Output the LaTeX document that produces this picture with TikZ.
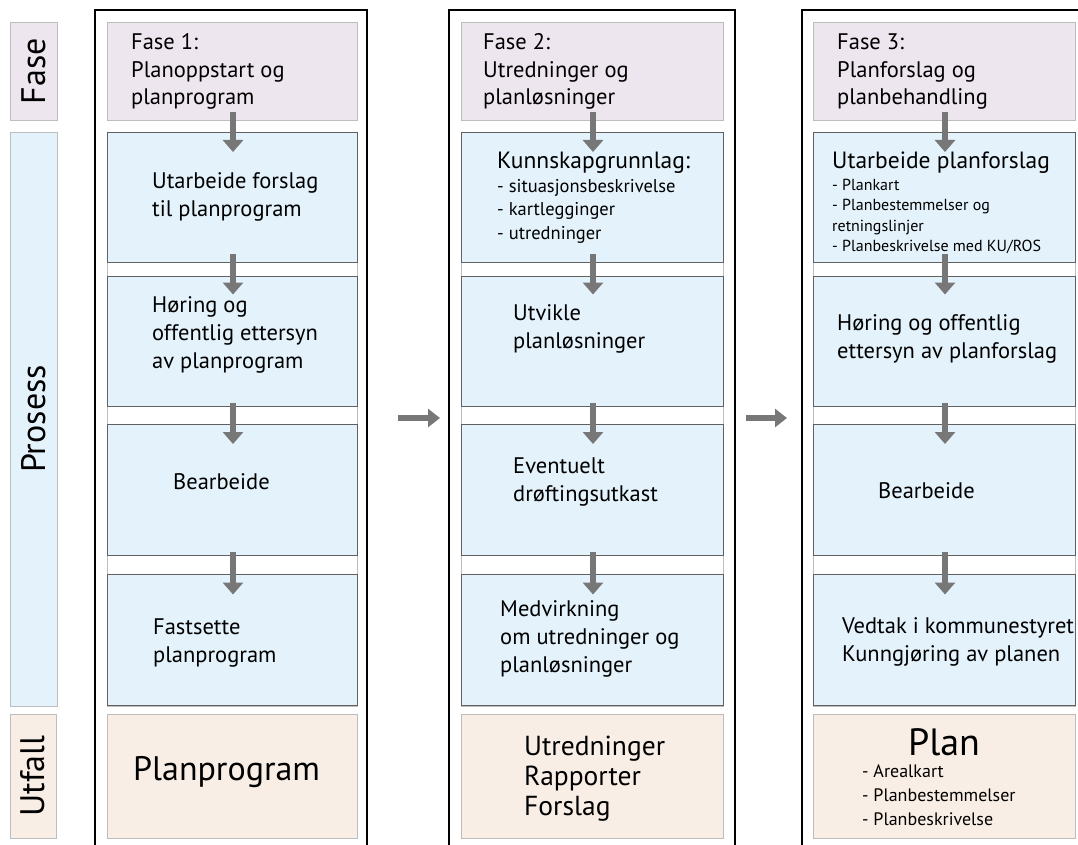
\documentclass[tikz,border=0pt]{standalone}
\usepackage{fontspec}
\setmainfont{PT Sans}
\usetikzlibrary{arrows.meta}
\definecolor{faseFill}{HTML}{EEE6EE}
\definecolor{procFill}{HTML}{E3F2FB}
\definecolor{utfFill}{HTML}{F9EEE5}
\definecolor{flowGray}{HTML}{777777}
\definecolor{softLine}{HTML}{BDBDBD}
\begin{document}
\begin{tikzpicture}[x=1pt,y=-1pt,
  box/.style={draw, inner sep=0pt, outer sep=0pt, line width=0.8pt},
  fasebox/.style={box, draw=softLine, fill=faseFill},
  procbox/.style={box, draw=black!62, fill=procFill},
  utfbox/.style={box, draw=softLine, fill=utfFill},
  procback/.style={box, draw=softLine, fill=white},
  frame/.style={draw=black, line width=1.2pt, inner sep=0pt, outer sep=0pt},
  sidelabel/.style={rotate=90, inner sep=0pt, font=\fontsize{34}{34}\selectfont},
  % multi-line texts are anchored at the baseline of their last line
  txt/.style={anchor=base west, inner sep=0pt, align=left, font=\fontsize{22.5}{28}\selectfont},
  fasetxt/.style={txt, font=\fontsize{22.5}{27.5}\selectfont},
  headtxt/.style={txt, font=\fontsize{23.5}{28}\selectfont},
  smallA/.style={anchor=base west, inner sep=0pt, align=left, font=\fontsize{18.5}{23.5}\selectfont},
  smallB/.style={anchor=base west, inner sep=0pt, align=left, font=\fontsize{16}{20.5}\selectfont},
  outtxt/.style={anchor=base west, inner sep=0pt, align=left, font=\fontsize{27.5}{30}\selectfont},
  flow/.style={draw=flowGray, line width=6pt, -{Triangle[length=12pt,width=20pt]}},
  hflow/.style={draw=flowGray, line width=6pt, -{Triangle[length=12pt,width=18pt]}}
]
\useasboundingbox (0,0) rectangle (1078,845);
\clip (0,0) rectangle (1078,845);

% row labels on the left
\node[fasebox, minimum width=47pt, minimum height=98pt] (lf) at (33.5,71) {};
\node[procbox, draw=softLine, minimum width=47pt, minimum height=574pt] (lp) at (33.5,419) {};
\node[utfbox, minimum width=46pt, minimum height=124pt] (lu) at (33,776) {};
\node[sidelabel] at (lf.center) {Fase};
\node[sidelabel] at (lp.center) {Prosess};
\node[sidelabel] at (lu.center) {Utfall};

% column frames
\node[frame, minimum width=272pt, minimum height=850pt] (c1) at (231,435) {};
\node[frame, minimum width=286pt, minimum height=850pt] (c2) at (592,435) {};
\node[frame, minimum width=286pt, minimum height=850pt] (c3) at (945,435) {};

% ---------- column 1 ----------
\node[procback, minimum width=250pt, minimum height=574pt] (b1) at (232,419) {};
\node[fasebox, minimum width=250pt, minimum height=98pt] (f1) at (232,71) {};
\node[procbox, minimum width=250pt, minimum height=130pt] (p11) at (232,197) {};
\node[procbox, minimum width=250pt, minimum height=130pt] (p12) at (232,341.5) {};
\node[procbox, minimum width=250pt, minimum height=131pt] (p13) at (232,489.5) {};
\node[procbox, minimum width=250pt, minimum height=131pt] (p14) at (232,640) {};
\node[utfbox, minimum width=250pt, minimum height=124pt] (u1) at (232,776) {};

\node[fasetxt] (tf1) at (131,105) {Fase 1:\\Planoppstart og\\planprogram};
\node[txt] (t11) at (152,216) {Utarbeide forslag\\til planprogram};
\node[txt] (t12) at (152,368) {Høring og\\offentlig ettersyn\\av planprogram};
\node[txt] (t13) at (173,489) {Bearbeide};
\node[txt] (t14) at (153,662) {Fastsette\\planprogram};
\node[anchor=base west, inner sep=0pt, font=\fontsize{34}{34}\selectfont] (tu1) at (133,780) {Planprogram};

% ---------- column 2 ----------
\node[procback, minimum width=262pt, minimum height=574pt] (b2) at (592,419) {};
\node[fasebox, minimum width=262pt, minimum height=98pt] (f2) at (592,71) {};
\node[procbox, minimum width=262pt, minimum height=130pt] (p21) at (592,197) {};
\node[procbox, minimum width=262pt, minimum height=130pt] (p22) at (592,341.5) {};
\node[procbox, minimum width=262pt, minimum height=131pt] (p23) at (592,489.5) {};
\node[procbox, minimum width=262pt, minimum height=131pt] (p24) at (592,640) {};
\node[utfbox, minimum width=262pt, minimum height=124pt] (u2) at (592,776) {};

\node[fasetxt] (tf2) at (483,105) {Fase 2:\\Utredninger og\\planløsninger};
\node[headtxt] (t21) at (497,168) {Kunnskapgrunnlag:};
\node[smallA] (t21s) at (497,239) {- situasjonsbeskrivelse\\- kartlegginger\\- utredninger};
\node[txt] (t22) at (513,348) {Utvikle\\planløsninger};
\node[txt] (t23) at (513,501) {Eventuelt\\drøftingsutkast};
\node[txt] (t24) at (500,672) {Medvirkning\\om utredninger og\\planløsninger};
\node[outtxt] (tu2) at (524,815) {Utredninger\\Rapporter\\Forslag};

% ---------- column 3 ----------
\node[procback, minimum width=262pt, minimum height=574pt] (b3) at (944,419) {};
\node[fasebox, minimum width=262pt, minimum height=98pt] (f3) at (944,71) {};
\node[procbox, minimum width=262pt, minimum height=130pt] (p31) at (944,197) {};
\node[procbox, minimum width=262pt, minimum height=130pt] (p32) at (944,341.5) {};
\node[procbox, minimum width=262pt, minimum height=131pt] (p33) at (944,489.5) {};
\node[procbox, minimum width=262pt, minimum height=131pt] (p34) at (944,640) {};
\node[utfbox, minimum width=262pt, minimum height=124pt] (u3) at (944,776) {};

\node[fasetxt] (tf3) at (837,105) {Fase 3:\\Planforslag og\\planbehandling};
\node[headtxt] (t31) at (832,168) {Utarbeide planforslag};
\node[smallB] (t31s) at (832,251.5) {- Plankart\\- Planbestemmelser og\\retningslinjer\\- Planbeskrivelse med KU/ROS};
\node[txt] (t32) at (837,358) {Høring og offentlig\\ettersyn av planforslag};
\node[txt] (t33) at (878,498) {Bearbeide};
\node[txt] (t34) at (842,661) {Vedtak i kommunestyret\\Kunngjøring av planen};
\node[anchor=base, inner sep=0pt, font=\fontsize{38}{38}\selectfont] (tu3) at (944,755) {Plan};
\node[anchor=base west, inner sep=0pt, align=left, font=\fontsize{18}{24}\selectfont] (tu3s) at (862,825) {- Arealkart\\- Planbestemmelser\\- Planbeskrivelse};

% ---------- flow arrows inside the columns ----------
\foreach \c in {1,2,3}{
  \draw[flow] ([xshift=1pt,yshift=8pt]f\c.south) -- ([xshift=1pt,yshift=-20pt]p\c1.north);
  \draw[flow] ([xshift=1pt,yshift=8pt]p\c1.south) -- ([xshift=1pt,yshift=-18pt]p\c2.north);
  \draw[flow] ([xshift=1pt,yshift=4pt]p\c2.south) -- ([xshift=1pt,yshift=-20pt]p\c3.north);
  \draw[flow] ([xshift=1pt,yshift=3pt]p\c3.south) -- ([xshift=1pt,yshift=-20pt]p\c4.north);
}

% ---------- arrows between the phases ----------
\draw[hflow] ([xshift=31pt,yshift=17pt]c1.east) -- ([xshift=-9pt,yshift=17pt]c2.west);
\draw[hflow] ([xshift=11pt,yshift=17pt]c2.east) -- ([xshift=-15pt,yshift=17pt]c3.west);
\end{tikzpicture}
\end{document}
